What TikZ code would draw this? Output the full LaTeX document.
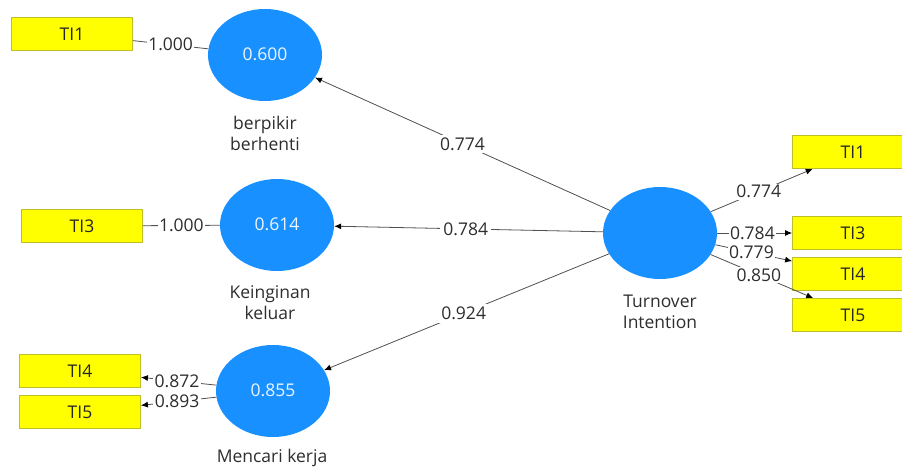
\documentclass[tikz,border=0pt]{standalone}
\usepackage{fontspec}
\setmainfont{Open Sans}
\usetikzlibrary{shapes.geometric,arrows.meta}
\definecolor{lvblue}{RGB}{24,144,255}
\definecolor{indyellow}{RGB}{255,255,0}
\definecolor{indedge}{RGB}{190,190,40}
\definecolor{labelgray}{RGB}{45,45,45}
\definecolor{linegray}{RGB}{80,80,80}
\tikzset{
  latent/.style={ellipse, fill=lvblue, draw=none, minimum width=114pt, minimum height=92pt,
    inner sep=0pt, text=white!92!lvblue, font=\fontsize{17.5}{20}\selectfont},
  indicator/.style={rectangle, fill=indyellow, draw=indedge, line width=0.8pt,
    minimum width=121pt, minimum height=33pt, inner sep=0pt, text=black!85,
    font=\fontsize{17.5}{20}\selectfont},
  lvname/.style={align=center, text=labelgray, font=\fontsize{17.5}{21}\selectfont},
  coef/.style={fill=white, inner sep=1.5pt, text=labelgray, font=\fontsize{17.5}{20}\selectfont},
  pathcoef/.style={coef, inner sep=3pt},
  link/.style={draw=linegray, line width=0.8pt},
  arrowlink/.style={link, -{Latex[length=7pt,width=6pt,color=black]}}
}
\begin{document}
\begin{tikzpicture}[x=1pt,y=-1pt]
\useasboundingbox (0,0) rectangle (902,466);
\clip (0,0) rectangle (902,466);

% latent variables
\node[latent] (bb) at (265,55) {\raisebox{2pt}{0.600}};
\node[latent] (kk) at (277,225) {\raisebox{2pt}{0.614}};
\node[latent] (mk) at (273,391) {\raisebox{2pt}{0.855}};
\node[latent] (ti) at (660,233) {};

% latent variable names
\node[lvname] (bbname) at (265,133) {berpikir\\berhenti};
\node[lvname] (kkname) at (270,303) {Keinginan\\keluar};
\node[lvname] (mkname) at (272,458) {Mencari kerja};
\node[lvname] (tiname) at (660,312) {Turnover\\Intention};

% indicators, left
\node[indicator] (l1) at (72,34) {TI1};
\node[indicator] (l3) at (82,226) {TI3};
\node[indicator] (l4) at (80,371) {TI4};
\node[indicator] (l5) at (80,412) {TI5};

% indicators, right
\node[indicator] (r1) at (853,152) {TI1};
\node[indicator] (r3) at (853,233) {TI3};
\node[indicator] (r4) at (853,274) {TI4};
\node[indicator] (r5) at (853,315) {TI5};

% outer loadings, left
\draw[link] (bb) -- node[coef, pos=0.5] {1.000} (l1);
\draw[link] (kk) -- node[coef, pos=0.5] {1.000} (l3);
\draw[arrowlink] (mk) -- node[coef, pos=0.52] {0.872} (l4);
\draw[arrowlink] (mk) -- node[coef, pos=0.52] {0.893} (l5);

% outer loadings, right
\draw[arrowlink] (ti) -- node[coef, pos=0.47] {0.774} (r1);
\draw[arrowlink] (ti) -- node[coef, pos=0.47] {0.784} (r3);
\draw[arrowlink] (ti) -- node[coef, pos=0.47] {0.779} (r4);
\draw[arrowlink] (ti) -- node[coef, pos=0.47] {0.850} (r5);

% path coefficients
\draw[arrowlink] (ti) -- node[pathcoef, pos=0.5] {0.774} (bb);
\draw[arrowlink] (ti) -- node[pathcoef, pos=0.51] {0.784} (kk);
\draw[arrowlink] (ti) -- node[pathcoef, pos=0.51] {0.924} (mk);
\end{tikzpicture}
\end{document}
